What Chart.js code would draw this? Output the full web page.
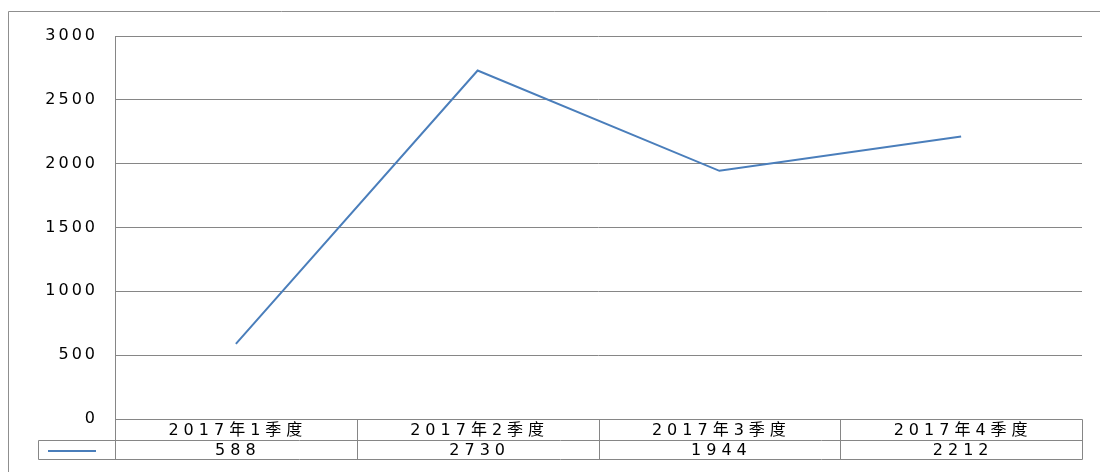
<!DOCTYPE html>
<html>
<head>
<meta charset="utf-8">
<script src="https://cdn.jsdelivr.net/npm/chart.js@4"></script>
<style>
html, body { margin: 0; padding: 0; background: #fff; }
</style>
</head>
<body>
<canvas id="quarterly" width="1100" height="472"></canvas>
<script>
var quarters = ['2017年1季度', '2017年2季度', '2017年3季度', '2017年4季度'];
var sales = [588, 2730, 1944, 2212];
var yMin = 0;
var yMax = 3000;
var yStep = 500;

var lineColor = '#4a7ebb';
var gridColor = '#868686';
var fontFamily = "'DejaVu Sans', 'Noto Sans CJK SC', sans-serif";

// Excel style data table under the plot, plus the outer frame
var dataTable = {
  id: 'dataTable',
  beforeDraw: function(chart) {
    chart.ctx.letterSpacing = '3px';
  },
  afterDraw: function(chart) {
    var ctx = chart.ctx;
    var area = chart.chartArea;
    var n = quarters.length;
    var colW = (area.right - area.left) / n;
    var top = Math.round(area.bottom) + 0.5;
    var mid = top + 21;
    var bot = mid + 19;
    var keyLeft = 38.5;
    var left = Math.round(area.left) + 0.5;
    var right = Math.round(area.right) + 0.5;

    ctx.save();
    ctx.strokeStyle = gridColor;
    ctx.lineWidth = 1;
    ctx.beginPath();
    // rows
    ctx.moveTo(left, top); ctx.lineTo(right, top);
    ctx.moveTo(keyLeft, mid); ctx.lineTo(right, mid);
    ctx.moveTo(keyLeft, bot); ctx.lineTo(right, bot);
    // y axis line down through the table
    ctx.moveTo(left, Math.round(area.top) + 0.5); ctx.lineTo(left, bot);
    ctx.moveTo(keyLeft, mid); ctx.lineTo(keyLeft, bot);
    for (var i = 1; i <= n; i++) {
      var cx = Math.round(area.left + i * colW) + 0.5;
      ctx.moveTo(cx, top); ctx.lineTo(cx, bot);
    }
    ctx.stroke();

    // outer frame (left and top visible)
    ctx.strokeStyle = '#8f8f8f';
    ctx.beginPath();
    ctx.moveTo(8.5, 472); ctx.lineTo(8.5, 11.5); ctx.lineTo(1100, 11.5);
    ctx.stroke();

    // legend key
    ctx.strokeStyle = lineColor;
    ctx.lineWidth = 2;
    ctx.beginPath();
    ctx.moveTo(48, (mid + bot) / 2 + 1);
    ctx.lineTo(96, (mid + bot) / 2 + 1);
    ctx.stroke();

    ctx.fillStyle = '#000';
    ctx.font = '16px ' + fontFamily;
    ctx.letterSpacing = '5px';
    ctx.textAlign = 'center';
    ctx.textBaseline = 'middle';
    for (var j = 0; j < n; j++) {
      var centre = chart.scales.x.getPixelForValue(j) + 2;
      ctx.fillText(quarters[j], centre, (top + mid) / 2 + 1);
      ctx.fillText(String(sales[j]), centre, (mid + bot) / 2 + 1);
    }
    ctx.restore();
  }
};

var ctx = document.getElementById('quarterly').getContext('2d');
var chart = new Chart(ctx, {
  type: 'line',
  data: {
    labels: quarters,
    datasets: [{
      label: '',
      data: sales,
      borderColor: lineColor,
      backgroundColor: lineColor,
      borderWidth: 2,
      tension: 0,
      pointRadius: 0,
      fill: false
    }]
  },
  options: {
    responsive: false,
    animation: false,
    devicePixelRatio: 1,
    layout: { padding: { top: 36, right: 18, bottom: 53, left: 0 } },
    plugins: {
      legend: { display: false },
      tooltip: { enabled: false }
    },
    scales: {
      x: {
        type: 'category',
        offset: true,
        display: false
      },
      y: {
        min: yMin,
        max: yMax,
        afterFit: function(scale) { scale.width = 115; },
        border: { display: false },
        grid: { color: gridColor, drawTicks: false, lineWidth: 1 },
        ticks: {
          stepSize: yStep,
          padding: 17,
          color: '#000',
          font: { family: fontFamily, size: 16 },
          callback: function(v) { return String(v); }
        }
      }
    }
  },
  plugins: [dataTable]
});
</script>
</body>
</html>
